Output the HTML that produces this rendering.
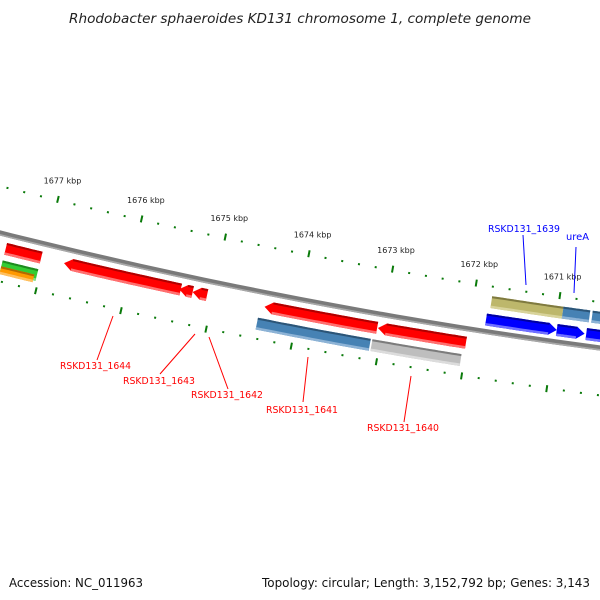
<!DOCTYPE html>
<html><head><meta charset="utf-8"><style>
html,body{margin:0;padding:0;background:#fff;}
svg{display:block;font-family:"DejaVu Sans","Liberation Sans",sans-serif;}
</style></head><body>
<svg id="map" width="600" height="600" viewBox="0 0 600 600" xmlns="http://www.w3.org/2000/svg">
<rect width="600" height="600" fill="#fff"/>
<text x="300" y="23" text-anchor="middle" font-style="italic" font-size="13" fill="#222" textLength="462" lengthAdjust="spacingAndGlyphs">Rhodobacter sphaeroides KD131 chromosome 1, complete genome</text>
<g id="ticks"></g>
<g id="feats"></g>
<g id="bb"></g>
<g id="labels"></g>
<text x="9" y="587" font-size="12" fill="#111" textLength="134" lengthAdjust="spacingAndGlyphs">Accession: NC_011963</text>
<text x="262" y="587" font-size="12" fill="#111" textLength="328" lengthAdjust="spacingAndGlyphs">Topology: circular; Length: 3,152,792 bp; Genes: 3,143</text>
</svg>
<script>
// data
const majorKbp = [1678,1677,1676,1675,1674,1673,1672,1671,1670];
const majorLabels = ["1678 kbp","1677 kbp","1676 kbp","1675 kbp","1674 kbp","1673 kbp","1672 kbp","1671 kbp","1670 kbp"];
const minorStepBp = 200;
// features: start/end in bp (kbp positions), track, color, arrow direction
const featNames = ["left-red","RSKD131_1644","RSKD131_1643","RSKD131_1642","RSKD131_1641","RSKD131_1640","rskd131-1641-track2","rskd131-1640-track2","left-green","left-orange","blue-1","blue-2","blue-3","RSKD131_1639","ureA-track2","next-track2"];
const featStart = [1677.45,1676.76,1675.40,1675.24,1674.39,1673.05,1674.44,1673.09,1677.45,1677.45,1671.82,1670.98,1670.63,1671.79,1670.94,1670.59];
const featEnd   = [1677.03,1675.38,1675.24,1675.07,1673.06,1672.01,1673.11,1672.04,1677.03,1677.06,1670.98,1670.65,1670.10,1670.94,1670.62,1670.10];
const featTrack = [1,1,1,1,1,1,2,2,2,3,-1,-1,-1,-2,-2,-2];
const featColor = ["red","red","red","red","red","red","steel","gray","green","orange","blue","blue","blue","khaki","steel","steel"];
const featArrow = [0,-1,-1,-1,-1,-1,0,0,0,0,1,1,0,0,0,0];
const labelText = ["RSKD131_1644","RSKD131_1643","RSKD131_1642","RSKD131_1641","RSKD131_1640","RSKD131_1639","ureA"];
const labelColor = ["red","red","red","red","red","blue","blue"];
const labelX = [60,123,191,266,367,488,566];
const labelY = [369,384,398,413,431,232,240];
const labelW = [71,72,72,72,72,72,23];
const lineFrom = [[113,316],[195,334],[209,337],[308,357],[411,376],[526,285],[574,293]];
const lineTo = [[97,360],[160,374],[228,389],[303,402],[404,422],[523,235],[576,247]];

const NS="http://www.w3.org/2000/svg";
const A=233,B=0.2512,C=-9.92e-5;
function bx(kbp){return 47+(1677-kbp)*84.4;}
function pt(x0,d){const s=B+2*C*x0,l=Math.sqrt(1+s*s);return [x0-d*s/l, A+B*x0+C*x0*x0+d/l];}
function mk(tag,attrs,parent){const e=document.createElementNS(NS,tag);for(const k in attrs)e.setAttribute(k,attrs[k]);parent.appendChild(e);return e;}
function band(x1,x2,d1,d2){const p=[];const n=20;for(let i=0;i<=n;i++)p.push(pt(x1+(x2-x1)*i/n,d1));for(let i=n;i>=0;i--)p.push(pt(x1+(x2-x1)*i/n,d2));return p.map(q=>q[0].toFixed(1)+","+q[1].toFixed(1)).join(" ");}

// backbone
const bb=document.getElementById('bb');
let e=mk('polygon',{points:band(-20,620,-2.6,2.6),fill:'#7a7a7a'},bb);

e=mk('polygon',{points:band(-20,620,1,2.6),fill:'#a8a8a8'},bb);


// ticks
const tk=document.getElementById('ticks');
const g='#0a7a0a';
for(let bp=1678800;bp>=1669800;bp-=minorStepBp){
  const x0=bx(bp/1000); if(x0<-30||x0>630)continue;
  const major=bp%1000===0;
  const rows=major?[[-50,-43],[44,51]]:[[-46.5,-44.5],[46,48]];
  rows.forEach((r,ri)=>{const a=pt(x0,r[0]),b=pt(x0,r[1]);
    const l=mk('line',{x1:a[0],y1:a[1],x2:b[0],y2:b[1],stroke:g,'stroke-width':2},tk);
    
    });
}
majorKbp.forEach((k,i)=>{const x0=bx(k);if(x0<-30||x0>620)return;const p=pt(x0,-66);
  const t=mk('text',{x:p[0].toFixed(1),y:(p[1]+3).toFixed(1),'text-anchor':'middle','font-size':'8',fill:'#222'},tk);
  t.textContent=majorLabels[i];
  
  });

// features
const pal={red:['#ff0000','#b00000','#ff7070'],steel:['#4682b4','#2c5577','#8db3d6'],gray:['#bebebe','#7c7c7c','#dcdcdc'],green:['#33cc33','#1f8a1f','#88e088'],orange:['#ff9900','#b06a00','#ffc060'],blue:['#0000ff','#0000a0','#7070ff'],khaki:['#bdb76b','#7f7a40','#d8d39a']};
const trk={1:[8,20],2:[26,38],3:[32,40],'-1':[-18,-6],'-2':[-36,-24]};
const fg=document.getElementById('feats');
featNames.forEach((nm,i)=>{
  let x1=bx(featStart[i]),x2=bx(featEnd[i]);const [d1,d2]=trk[featTrack[i]];const c=pal[featColor[i]];
  const g2=mk('g',{},fg);
  
  
  let body=[x1,x2];const h=8,mid=(d1+d2)/2;
  let pts;
  if(featArrow[i]===-1){body=[x1+h,x2];const t=pt(x1,mid);pts=t[0]+","+t[1]+" "+band(x1+h,x2,d1,d2);}
  else if(featArrow[i]===1){body=[x1,x2-h];const t=pt(x2,mid);
    const top=[],bot=[];for(let j=0;j<=20;j++){top.push(pt(x1+(x2-h-x1)*j/20,d1));}
    for(let j=20;j>=0;j--){bot.push(pt(x1+(x2-h-x1)*j/20,d2));}
    pts=top.concat([t]).concat(bot).map(q=>q[0].toFixed(1)+","+q[1].toFixed(1)).join(" ");}
  else pts=band(x1,x2,d1,d2);
  mk('polygon',{points:pts,fill:c[0]},g2);
  mk('polygon',{points:band(body[0],body[1],d1,d1+2),fill:c[1]},g2);
  mk('polygon',{points:band(body[0],body[1],d2-2.5,d2),fill:c[2]},g2);
});

// labels
const lg=document.getElementById('labels');
labelText.forEach((t,i)=>{
  const col=labelColor[i]==='red'?'#ff0000':'#0000ff';
  const l=mk('line',{x1:lineFrom[i][0],y1:lineFrom[i][1],x2:lineTo[i][0],y2:lineTo[i][1],stroke:col,'stroke-width':1},lg);
  
  
  const tx=mk('text',{x:labelX[i],y:labelY[i],'font-size':'10',fill:col,textLength:labelW[i],lengthAdjust:'spacingAndGlyphs'},lg);
  tx.textContent=t;
  
  
});
</script>
</body></html>
